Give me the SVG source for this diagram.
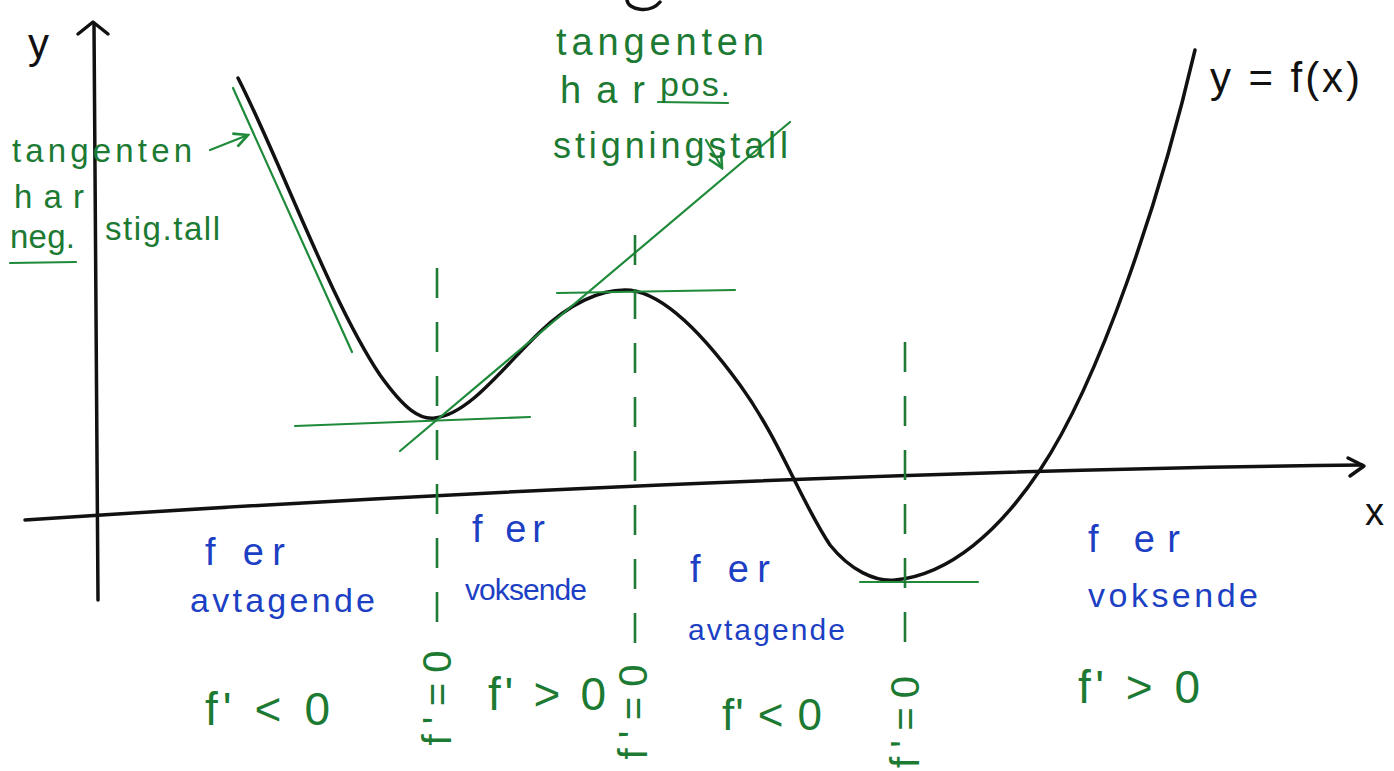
<svg xmlns="http://www.w3.org/2000/svg" width="1394" height="771" viewBox="0 0 1394 771">
<style>
.ink{fill:none;stroke:#111;stroke-width:3.5;stroke-linecap:round;stroke-linejoin:round}
.gl{fill:none;stroke:#1f8a3a;stroke-width:2.2;stroke-linecap:round}
.dash{fill:none;stroke:#1f7a35;stroke-width:2.6;stroke-dasharray:30 24}
.g{fill:#1c7a32;font-family:"Liberation Sans",sans-serif}
.b{fill:#1c3fc4;font-family:"Liberation Sans",sans-serif}
.k{fill:#111;font-family:"Liberation Sans",sans-serif}
</style>
<defs>
<marker id="ga" viewBox="0 0 10 10" refX="9" refY="5" markerWidth="8" markerHeight="8" orient="auto"><path d="M1,1 L9,5 L1,9" fill="none" stroke="#1f8a3a" stroke-width="1.5"/></marker>
</defs>
<rect width="1394" height="771" fill="#fff"/>
<g id="axes">
<path class="ink" d="M98,600 C96,450 94,250 94,24"/>
<path class="ink" d="M78,34 L93,22 L108,34"/>
<path class="ink" d="M25,520 C400,495 900,470 1362,465"/>
<path class="ink" d="M1348,458 L1364,466 L1350,476"/>
<path class="ink" d="M627,0 C628,10 650,14 660,2"/>
</g>
<g id="curve">
<path class="ink" d="M238,78 C280,160 330,300 380,375 C405,410 420,420 435,418 C470,414 505,365 540,332 C570,303 600,290 625,290 C660,290 700,330 740,385 C780,440 800,500 830,545 C850,570 875,582 895,580 C950,575 1000,530 1040,470 C1100,380 1160,200 1195,50"/>
</g>
<g id="tangents">
<path class="gl" d="M233,88 L352,352"/>
<path class="gl" d="M295,426 L530,417"/>
<path class="gl" d="M400,451 L790,122"/>
<path class="gl" d="M557,293 L735,290"/>
<path class="gl" d="M860,582 L978,582"/>
<path class="dash" d="M437,268 L437,640"/>
<path class="dash" d="M635,235 L635,662"/>
<path class="dash" d="M905,342 L905,660"/>
<path class="gl" d="M210,150 L248,135" marker-end="url(#ga)"/>
<path class="gl" d="M706,140 L722,168" marker-end="url(#ga)"/>
<path class="gl" d="M658,102 L728,103"/>
<path class="gl" d="M10,263 L76,262"/>
</g>
<g id="labels-green">
<text class="g" x="12" y="162" font-size="33" textLength="180" lengthAdjust="spacing">tangenten</text>
<text class="g" x="14" y="208" font-size="33" textLength="70" lengthAdjust="spacing">har</text>
<text class="g" x="10" y="248" font-size="33" textLength="65" lengthAdjust="spacing">neg.</text>
<text class="g" x="105" y="240" font-size="33" textLength="115" lengthAdjust="spacing">stig.tall</text>
<text class="g" x="556" y="55" font-size="38" textLength="208" lengthAdjust="spacing">tangenten</text>
<text class="g" x="560" y="103" font-size="38" textLength="85" lengthAdjust="spacing">har</text>
<text class="g" x="660" y="96" font-size="34" textLength="70" lengthAdjust="spacing">pos.</text>
<text class="g" x="553" y="158" font-size="36" textLength="235" lengthAdjust="spacing">stigningstall</text>
<text class="g" x="205" y="725" font-size="46" textLength="125" lengthAdjust="spacing">f' &lt; 0</text>
<text class="g" x="488" y="710" font-size="46" textLength="118" lengthAdjust="spacing">f' &gt; 0</text>
<text class="g" x="722" y="730" font-size="44" textLength="100" lengthAdjust="spacing">f' &lt; 0</text>
<text class="g" x="1078" y="703" font-size="46" textLength="122" lengthAdjust="spacing">f' &gt; 0</text>
<text class="g" font-size="40" text-anchor="middle" textLength="95" lengthAdjust="spacing" transform="translate(451,698) rotate(-90)">f'=0</text>
<text class="g" font-size="40" text-anchor="middle" textLength="95" lengthAdjust="spacing" transform="translate(647,712) rotate(-90)">f'=0</text>
<text class="g" font-size="40" text-anchor="middle" textLength="92" lengthAdjust="spacing" transform="translate(919,722) rotate(-90)">f'=0</text>
</g>
<g id="labels-blue">
<text class="b" x="205" y="565" font-size="38" textLength="80" lengthAdjust="spacing">f er</text>
<text class="b" x="190" y="612" font-size="34" textLength="185" lengthAdjust="spacing">avtagende</text>
<text class="b" x="472" y="542" font-size="38" textLength="73" lengthAdjust="spacing">f er</text>
<text class="b" x="465" y="600" font-size="30" textLength="122" lengthAdjust="spacing">voksende</text>
<text class="b" x="690" y="582" font-size="38" textLength="80" lengthAdjust="spacing">f er</text>
<text class="b" x="688" y="640" font-size="30" textLength="157" lengthAdjust="spacing">avtagende</text>
<text class="b" x="1088" y="552" font-size="38" textLength="92" lengthAdjust="spacing">f er</text>
<text class="b" x="1088" y="607" font-size="34" textLength="170" lengthAdjust="spacing">voksende</text>
</g>
<g id="labels-black">
<text class="k" x="28" y="58" font-size="42">y</text>
<text class="k" x="1365" y="525" font-size="38">x</text>
<text class="k" x="1210" y="92" font-size="42" textLength="150" lengthAdjust="spacing">y = f(x)</text>
</g>
</svg>
